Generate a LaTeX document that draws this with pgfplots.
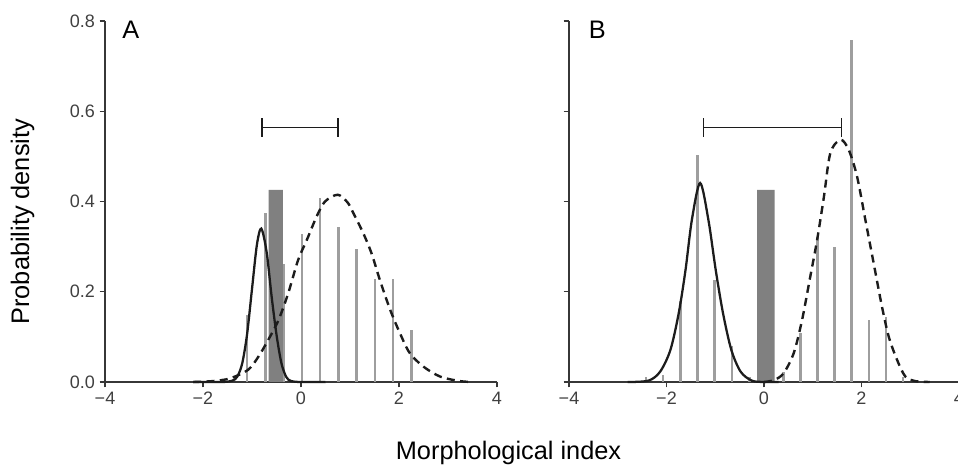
\documentclass[border=0pt]{standalone}
\usepackage{fontspec}
\setmainfont{Liberation Sans}
\usepackage{pgfplots}
\pgfplotsset{compat=1.18}
\definecolor{barg}{RGB}{158,158,158}
\definecolor{rectg}{RGB}{128,128,128}
\definecolor{curve}{RGB}{28,28,28}
\definecolor{axc}{RGB}{55,55,55}
\pgfplotsset{
  panel/.style={
    scale only axis, height=270.75pt,
    xmin=-4, xmax=4, ymin=0, ymax=0.8,
    axis lines=left, axis line style={-, line width=1.2pt, axc},
    tick align=outside, major tick length=4pt,
    tick style={line width=1.1pt, axc},
    xtick={-4,-2,0,2,4}, xticklabels={−4,−2,0,2,4},
    ytick={0,0.2,0.4,0.6,0.8},
    tick label style={font=\fontsize{13.5}{15}\selectfont, text=black!75},
    clip=false,
  },
  bars/.style={ycomb, barg, line width=1.9pt, mark=none},
  solidc/.style={curve, line width=1.7pt, smooth, mark=none},
  dashc/.style={curve, line width=1.8pt, smooth, mark=none, dash pattern=on 6pt off 4pt},
  ebar/.style={curve, line width=1.4pt, mark=none},
}
\newcommand{\biglab}{\fontsize{19}{22}\selectfont}

\begin{document}
\begin{tikzpicture}
% ===== panel A =====
\begin{axis}[panel, width=294pt, at={(78.75pt,63.75pt)}, anchor=south west,
  yticklabels={0.0,0.2,0.4,0.6,0.8}]
\addplot[bars] coordinates {
  (-1.10,0.149) (-0.72,0.374) (-0.35,0.261) (0.02,0.327) (0.39,0.407)
  (0.76,0.343) (1.13,0.294) (1.51,0.229) (1.88,0.229) (2.25,0.115)};
\addplot[fill=rectg, draw=none] coordinates {
  (-0.66,0) (-0.66,0.426) (-0.37,0.426) (-0.37,0)} \closedcycle;
\addplot[solidc] coordinates {
  (-2.2,0) (-1.6,0.000) (-1.4,0.003) (-1.3,0.012) (-1.2,0.041) (-1.1,0.106)
  (-1.0,0.206) (-0.9,0.304) (-0.81,0.340) (-0.7,0.287) (-0.6,0.190)
  (-0.5,0.105) (-0.4,0.042) (-0.3,0.011) (-0.2,0.002) (0,0) (0.5,0)};
\addplot[dashc] coordinates {
  (-2.2,0) (-1.8,0.002) (-1.45,0.008) (-1.08,0.027) (-0.87,0.056) (-0.67,0.093)
  (-0.46,0.137) (-0.26,0.197) (-0.06,0.27) (0.12,0.315) (0.32,0.367) (0.49,0.40)
  (0.75,0.415) (0.95,0.398) (1.07,0.374) (1.27,0.33) (1.44,0.285) (1.61,0.226)
  (1.82,0.16) (2.02,0.108) (2.22,0.064) (2.50,0.034) (2.84,0.012) (3.24,0.002) (3.5,0)};
% interval bar
\addplot[ebar] coordinates {(-0.80,0.564) (0.75,0.564)};
\addplot[ebar] coordinates {(-0.80,0.543) (-0.80,0.585)};
\addplot[ebar] coordinates {(0.75,0.543) (0.75,0.585)};
\node[anchor=north west, inner sep=0pt, font=\biglab] at (axis cs:-3.65,0.80) {A};
\end{axis}

% ===== panel B =====
\begin{axis}[panel, width=292.5pt, at={(426.75pt,63.75pt)}, anchor=south west,
  yticklabel=\empty]
\addplot[bars] coordinates {
  (-2.42,0.012) (-2.07,0.015) (-1.71,0.18) (-1.36,0.503) (-1.01,0.225)
  (-0.66,0.08) (-0.30,0.012) (0.05,0.025) (0.40,0.023) (0.75,0.108)
  (1.10,0.322) (1.45,0.30) (1.80,0.757) (2.15,0.137) (2.50,0.145) (2.85,0.012)};
\addplot[fill=rectg, draw=none] coordinates {
  (-0.14,0) (-0.14,0.426) (0.22,0.426) (0.22,0)} \closedcycle;
\addplot[solidc] coordinates {
  (-2.8,0) (-2.37,0.003) (-2.13,0.023) (-1.92,0.071) (-1.75,0.152) (-1.61,0.248)
  (-1.48,0.359) (-1.31,0.441) (-1.14,0.359) (-0.99,0.248) (-0.84,0.152)
  (-0.67,0.071) (-0.48,0.023) (-0.25,0.003) (0,0) (0.3,0)};
\addplot[dashc] coordinates {
  (0.0,0) (0.20,0.004) (0.40,0.019) (0.61,0.064) (0.78,0.137) (0.95,0.234)
  (1.09,0.315) (1.23,0.411) (1.36,0.507) (1.57,0.537) (1.74,0.514) (1.91,0.455)
  (2.08,0.359) (2.25,0.263) (2.42,0.167) (2.56,0.100) (2.73,0.049) (2.90,0.012)
  (3.1,0.002) (3.4,0)};
\addplot[ebar] coordinates {(-1.24,0.564) (1.59,0.564)};
\addplot[ebar] coordinates {(-1.24,0.543) (-1.24,0.585)};
\addplot[ebar] coordinates {(1.59,0.543) (1.59,0.585)};
\node[anchor=north west, inner sep=0pt, font=\biglab] at (axis cs:-3.60,0.80) {B};
\end{axis}

% ===== shared labels =====
\node[rotate=90, font=\biglab] at (16.9pt,184pt) {Probability density};
\node[anchor=base, font=\biglab] at (381.4pt,5.5pt) {Morphological index};

\pgfresetboundingbox
\path[use as bounding box] (0,0) rectangle (718.5pt,350.25pt);
\end{tikzpicture}
\end{document}
